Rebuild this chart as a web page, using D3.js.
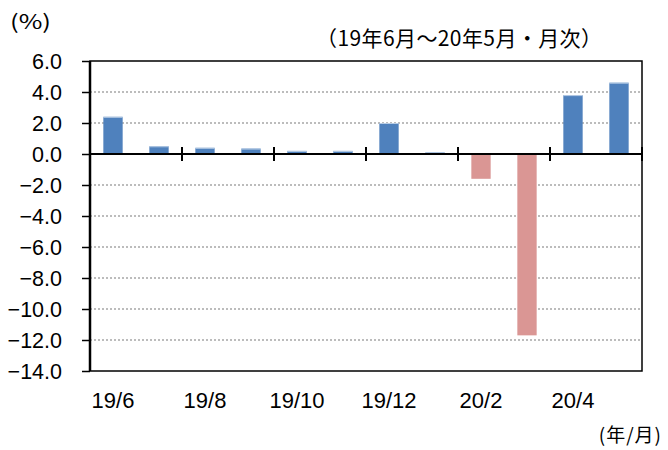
<!DOCTYPE html>
<html><head><meta charset="utf-8">
<script src="https://cdn.jsdelivr.net/npm/d3@7"></script>
<style>body{margin:0;background:#fff}</style>
</head><body>
<svg id="c" width="668" height="450"></svg>
<script>
const categories = ["19/6","19/7","19/8","19/9","19/10","19/11","19/12","20/1","20/2","20/3","20/4","20/5"];
const values = [2.4, 0.5, 0.4, 0.35, 0.2, 0.2, 2.0, 0.1, -1.6, -11.7, 3.8, 4.6];
const yTicks = [6,4,2,0,-2,-4,-6,-8,-10,-12,-14];
const xLabels = ["19/6","19/8","19/10","19/12","20/2","20/4"];

const svg = d3.select("#c");
const L = 90, R = 642, T = 61, B = 371;
const font = "'Liberation Sans', Arial, sans-serif";
const x = d3.scaleBand().domain(categories).range([L, R]).paddingInner(0.58).paddingOuter(0.29);
const y = d3.scaleLinear().domain([-14, 6]).range([B, T]);

// gridlines
svg.append("g").selectAll("line").data(yTicks.filter(d => d !== 0 && d !== 6 && d !== -14)).join("line")
  .attr("x1", L).attr("x2", R).attr("y1", d => y(d)).attr("y2", d => y(d))
  .attr("stroke", "#a6a6a6").attr("stroke-width", 1.5).attr("stroke-dasharray", "2,2");

// bars
svg.append("g").selectAll("rect").data(categories).join("rect")
  .attr("x", (d) => x(d))
  .attr("width", x.bandwidth())
  .attr("y", (d, i) => y(Math.max(0, values[i])))
  .attr("height", (d, i) => Math.abs(y(values[i]) - y(0)))
  .attr("fill", (d, i) => values[i] >= 0 ? "#4f81bd" : "#da9694");

// top highlight on positive bars
svg.append("g").selectAll("line").data(categories.filter((d, i) => values[i] > 0)).join("line")
  .attr("x1", d => x(d)).attr("x2", d => x(d) + x.bandwidth())
  .attr("y1", d => y(values[categories.indexOf(d)]) + 0.5).attr("y2", d => y(values[categories.indexOf(d)]) + 0.5)
  .attr("stroke", "#b9cde5").attr("stroke-width", 1);

// frame
svg.append("rect").attr("x", L).attr("y", T).attr("width", R - L).attr("height", B - T)
  .attr("fill", "none").attr("stroke", "#000").attr("stroke-width", 1.5);
svg.append("line").attr("x1", L).attr("x2", L).attr("y1", T).attr("y2", B).attr("stroke", "#000").attr("stroke-width", 2.5);

// y axis
const yAxis = d3.axisLeft(y).tickValues(yTicks).tickSize(8).tickFormat(d3.format(".1f"));
const gy = svg.append("g").attr("transform", `translate(${L},0)`).call(yAxis);
gy.select(".domain").remove();
gy.selectAll(".tick line").attr("stroke", "#000").attr("stroke-width", 1.5);
gy.selectAll(".tick text").attr("font-family", font).attr("font-size", 21.5).attr("fill", "#000").attr("x", -28).attr("dy", "0.36em");

// zero line
svg.append("line").attr("x1", L).attr("x2", R).attr("y1", y(0)).attr("y2", y(0)).attr("stroke", "#000").attr("stroke-width", 2);

// x ticks across zero line (every 2 categories)
const step = x.step();
const tickPos = d3.range(1, categories.length, 2).map(i => x(categories[i]) + x.bandwidth() + step * x.paddingInner() / 2);
svg.append("g").selectAll("line").data(tickPos).join("line")
  .attr("x1", d => d).attr("x2", d => d).attr("y1", y(0) - 7).attr("y2", y(0) + 7)
  .attr("stroke", "#000").attr("stroke-width", 2);

// x labels
svg.append("g").selectAll("text").data(xLabels).join("text")
  .attr("x", d => x(d) + x.bandwidth() / 2).attr("y", 408)
  .attr("text-anchor", "middle").attr("font-family", font).attr("font-size", 22).text(d => d);

// titles
const jp = "'Noto Sans CJK JP', sans-serif";
svg.append("text").attr("x", 10).attr("y", 29).attr("font-family", jp).attr("font-size", 20)
  .attr("textLength", 41).attr("lengthAdjust", "spacingAndGlyphs").text("(%)");
svg.append("text").attr("x", 316).attr("y", 46).attr("font-family", jp).attr("font-size", 21)
  .attr("textLength", 286).attr("lengthAdjust", "spacing").text("（19年6月～20年5月・月次）");
svg.append("text").attr("x", 662).attr("y", 442).attr("text-anchor", "end").attr("font-family", jp).attr("font-size", 19)
  .attr("letter-spacing", 1).text("(年/月)");
</script>
</body></html>
